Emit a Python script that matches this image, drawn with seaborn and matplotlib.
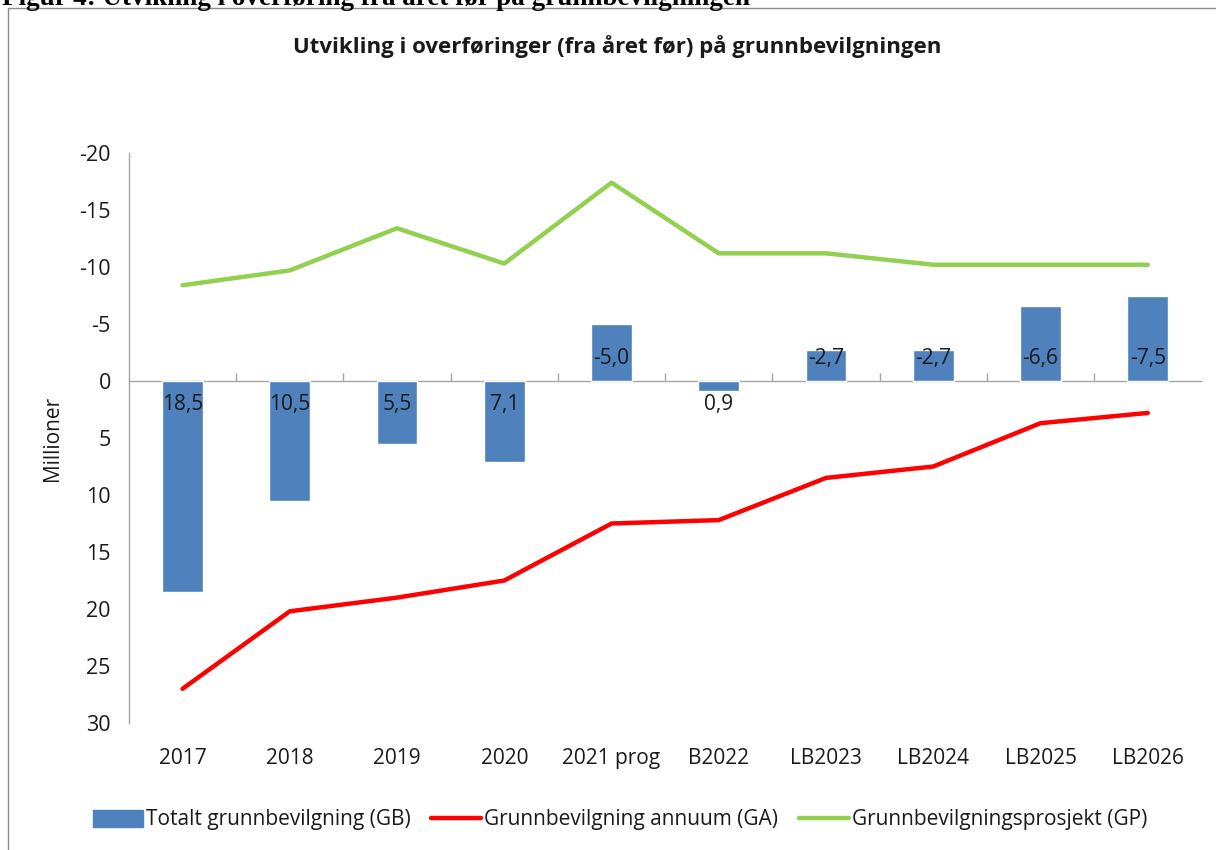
import numpy as np
import pandas as pd
import matplotlib
matplotlib.use("Agg")
import matplotlib.pyplot as plt
from matplotlib.patches import Rectangle, Patch
from matplotlib.lines import Line2D
import seaborn as sns

categories = ["2017", "2018", "2019", "2020", "2021 prog", "B2022",
              "LB2023", "LB2024", "LB2025", "LB2026"]
gb_total = [18.5, 10.5, 5.5, 7.1, -5.0, 0.9, -2.7, -2.7, -6.6, -7.5]
ga_annuum = [27.0, 20.2, 19.0, 17.5, 12.5, 12.2, 8.5, 7.5, 3.7, 2.8]
gp_prosjekt = [-8.4, -9.7, -13.4, -10.3, -17.4, -11.2, -11.2, -10.2, -10.2, -10.2]
y_ticks = [-20, -15, -10, -5, 0, 5, 10, 15, 20, 25, 30]

sns.set_theme(style="white")
plt.rcParams["font.family"] = ["Open Sans", "DejaVu Sans"]
plt.rcParams["axes.unicode_minus"] = False

BLUE = "#4F81BD"
RED = "#FF0000"
GREEN = "#92D050"
GRAY = "#A6A6A6"
TXT = "#1A1A1A"

fig = plt.figure(figsize=(12.16, 8.5), dpi=100)
ax = fig.add_axes([0.106, 0.1494, 0.882, 0.6706])

df = pd.DataFrame({"cat": categories, "GB": gb_total, "GA": ga_annuum, "GP": gp_prosjekt})

sns.barplot(data=df, x="cat", y="GB", color=BLUE, width=0.38, saturation=1, ax=ax, zorder=2)
sns.lineplot(data=df, x="cat", y="GA", color=RED, linewidth=3.2, sort=False, ax=ax, zorder=3)
sns.lineplot(data=df, x="cat", y="GP", color=GREEN, linewidth=3.2, sort=False, ax=ax, zorder=3)

ax.set_xlim(-0.5, len(categories) - 0.5)
ax.set_ylim(30, -20)
ax.set_yticks(y_ticks)
ax.set_yticklabels([str(t) for t in y_ticks])
ax.tick_params(axis="y", length=0, labelsize=15.5, labelcolor=TXT, pad=13)
ax.tick_params(axis="x", length=0, labelsize=15, labelcolor=TXT, pad=18)
ax.set_xlabel("")
ax.set_ylabel("Millioner", fontsize=15, color=TXT, labelpad=12)

for s in ["top", "right", "bottom"]:
    ax.spines[s].set_visible(False)
ax.spines["left"].set_color(GRAY)
ax.spines["left"].set_linewidth(1)

# zero line with category separators
sec = ax.secondary_xaxis(0, transform=ax.transData)
sec.set_xticks(np.arange(0.5, len(categories) - 1, 1.0))
sec.set_xticklabels([])
sec.tick_params(direction="in", length=6, color=GRAY, width=1)
sec.spines["bottom"].set_color(GRAY)
sec.spines["bottom"].set_linewidth(1)

# data labels near base of bars
for i, v in enumerate(gb_total):
    ypos = 2.05 if v > 0 else -2.0
    ax.text(i, ypos, f"{v:.1f}".replace(".", ","), ha="center", va="center",
            fontsize=15, color=TXT, zorder=4)

# chart border
fig.patches.append(Rectangle((8 / 1216, -0.05), 1.1, 1 - 8 / 850 + 0.05,
                             transform=fig.transFigure, fill=False,
                             edgecolor="#8C8C8C", linewidth=1))

# figure caption (cut off at top, as in the source)
fig.text(0.002, 1 - 5 / 850, "Figur 4: Utvikling i overføring fra året før på grunnbevilgningen",
         ha="left", va="baseline", fontsize=19.5, fontweight="bold",
         family=["Liberation Serif", "DejaVu Serif"], color="black")

fig.text(617 / 1216, 1 - 47 / 850, "Utvikling i overføringer (fra året før) på grunnbevilgningen",
         ha="center", va="center", fontsize=16, fontweight="bold", color=TXT)

handles = [Patch(facecolor=BLUE, edgecolor=BLUE),
           Line2D([], [], color=RED, linewidth=3.2),
           Line2D([], [], color=GREEN, linewidth=3.2)]
labels = ["Totalt grunnbevilgning (GB)", "Grunnbevilgning annuum (GA)",
          "Grunnbevilgningsprosjekt (GP)"]
fig.legend(handles, labels, loc="center", bbox_to_anchor=(0.51, 1 - 820 / 850),
           ncol=3, frameon=False, fontsize=15, handlelength=2.4, handleheight=0.9,
           handletextpad=0.15, columnspacing=1.0, labelcolor=TXT)

fig.savefig("out.png", dpi=100)
